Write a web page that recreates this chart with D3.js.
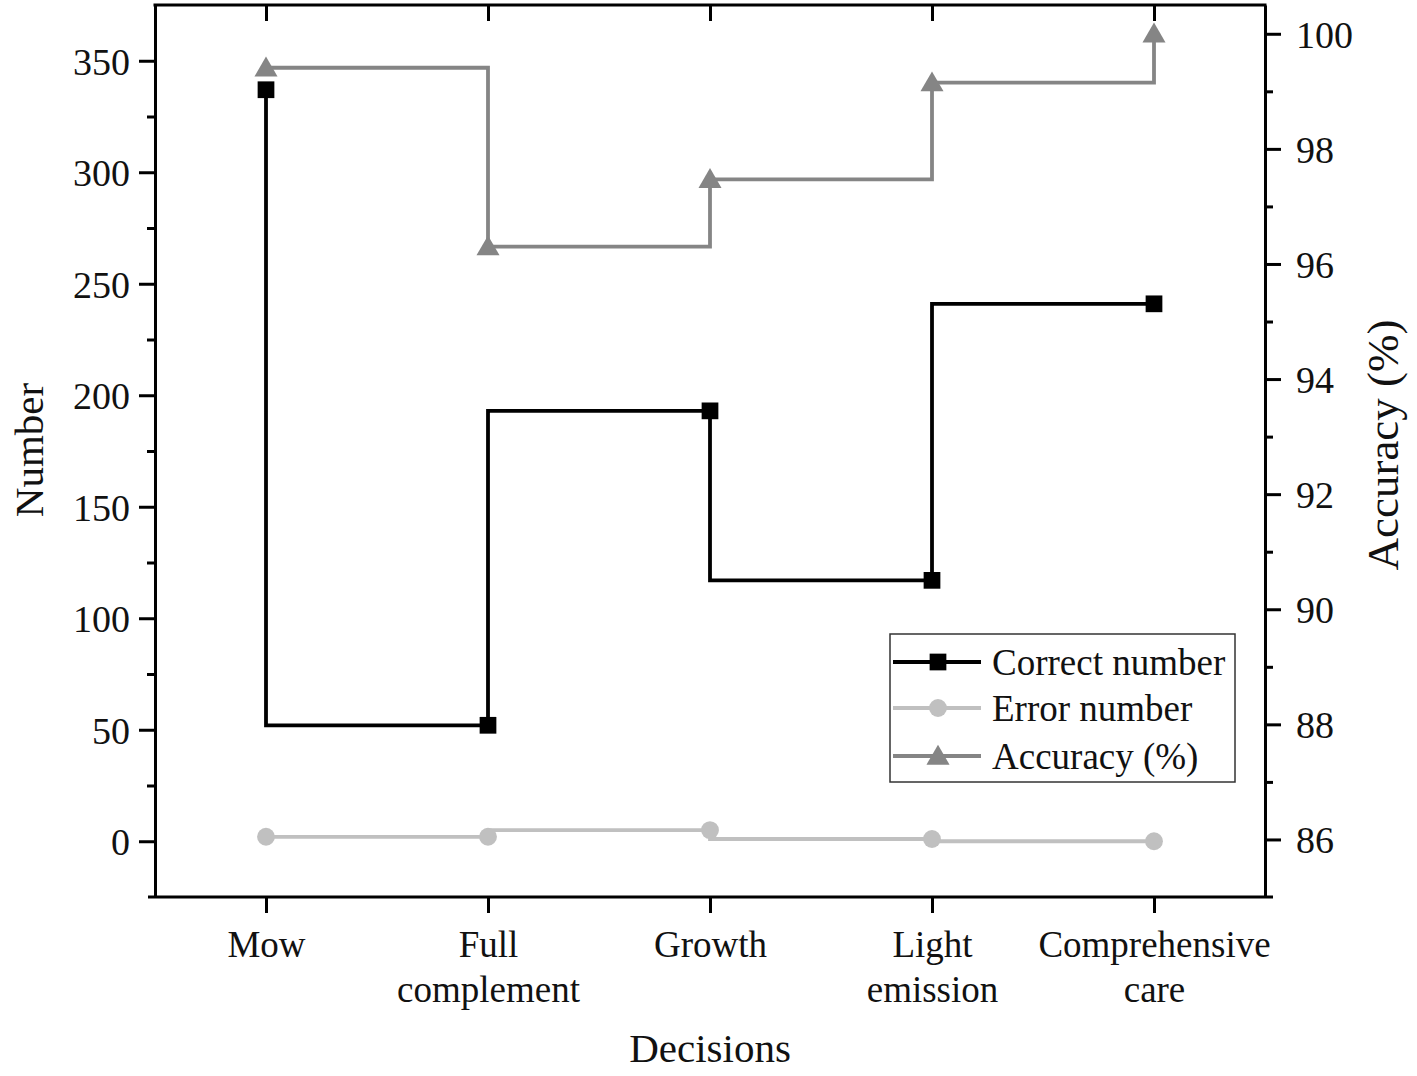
<!DOCTYPE html>
<html><head><meta charset="utf-8">
<script src="https://cdn.jsdelivr.net/npm/d3@7/dist/d3.min.js"></script>
<style>body{margin:0;background:#fff}svg{display:block}text{font-family:"Liberation Serif","Times New Roman",serif;fill:#111}</style>
</head><body>
<script>
const categories = [["Mow"], ["Full", "complement"], ["Growth"], ["Light", "emission"], ["Comprehensive", "care"]];
const correctNumber = [337, 52, 193, 117, 241];
const errorNumber = [2, 2, 5, 1, 0];
const accuracy = [99.41, 96.30, 97.47, 99.15, 100];
const leftTicks = [0, 50, 100, 150, 200, 250, 300, 350];
const rightTicks = [86, 88, 90, 92, 94, 96, 98, 100];

const W = 1417, H = 1076;
const L = 155, R = 1265, T = 5, B = 897;
const svg = d3.select("body").append("svg").attr("width", W).attr("height", H);

const x = d3.scalePoint().domain(d3.range(categories.length)).range([L, R]).padding(0.5);
const yL = d3.scaleLinear().domain([-25, 375]).range([B, T]);
const yR = d3.scaleLinear().domain([85, 100.5]).range([B, T]);

const series = [
  {name: "Correct number", vals: correctNumber, y: yL, color: "#000000", curve: d3.curveStepBefore, shape: "square"},
  {name: "Error number", vals: errorNumber, y: yL, color: "#c0c0c0", curve: d3.curveStepBefore, shape: "circle"},
  {name: "Accuracy (%)", vals: accuracy, y: yR, color: "#858585", curve: d3.curveStepAfter, shape: "triangle"}
];
const symbolOf = s => s === "square" ? d3.symbol(d3.symbolSquare, 280) : s === "circle" ? d3.symbol(d3.symbolCircle, 250) : d3.symbol(d3.symbolTriangle, 230);

const drawOrder = [1, 0, 2];
drawOrder.forEach(i => {
  const s = series[i];
  const line = d3.line().x((d, j) => x(j)).y(d => s.y(d)).curve(s.curve);
  svg.append("path").attr("d", line(s.vals)).attr("fill", "none").attr("stroke", s.color).attr("stroke-width", 3.8);
  svg.selectAll(null).data(s.vals).enter().append("path")
    .attr("d", symbolOf(s.shape))
    .attr("transform", (d, j) => `translate(${x(j)},${s.y(d) + (s.shape === "triangle" ? 2 : 0)})`)
    .attr("fill", s.color);
});

const axStyle = g => { g.selectAll("path.domain").attr("stroke", "#000").attr("stroke-width", 3);
  g.selectAll(".tick line").attr("stroke", "#000").attr("stroke-width", 3);
  g.selectAll("text").style("font-size", "38px").attr("fill", "#111"); };

const gl = svg.append("g").attr("transform", `translate(${L},0)`);
gl.call(d3.axisLeft(yL).tickValues(leftTicks).tickSize(16).tickPadding(9).tickSizeOuter(0)).call(axStyle);
gl.selectAll("text").attr("dy", "0.35em");
gl.append("g").call(d3.axisLeft(yL).tickValues([25, 75, 125, 175, 225, 275, 325]).tickSize(8).tickFormat("").tickSizeOuter(0)).call(axStyle).select(".domain").remove();

const gr = svg.append("g").attr("transform", `translate(${R},0)`);
gr.call(d3.axisRight(yR).tickValues(rightTicks).tickSize(16).tickPadding(15).tickSizeOuter(0)).call(axStyle);
gr.selectAll("text").attr("dy", "0.35em");
gr.append("g").call(d3.axisRight(yR).tickValues([87, 89, 91, 93, 95, 97, 99]).tickSize(8).tickFormat("").tickSizeOuter(0)).call(axStyle).select(".domain").remove();

const gb = svg.append("g").attr("transform", `translate(0,${B})`);
gb.call(d3.axisBottom(x).tickSize(16).tickFormat("").tickSizeOuter(0)).call(axStyle);
gb.select(".domain").attr("d", `M${L - 7},0H${R + 8}`);
gb.selectAll(".tick").each(function(d) {
  const t = d3.select(this).append("text").attr("text-anchor", "middle").style("font-size", "37px").attr("fill", "#111");
  categories[d].forEach((ln, k) => t.append("tspan").attr("x", 0).attr("y", 60 + k * 45).text(ln));
});

const gt = svg.append("g").attr("transform", `translate(0,${T})`);
gt.call(d3.axisBottom(x).tickSize(16).tickFormat("").tickSizeOuter(0)).call(axStyle);
gt.select(".domain").attr("d", `M${L - 1.5},0H${R + 1.5}`);

svg.append("text").attr("transform", `translate(${(L + R) / 2},1062)`).attr("text-anchor", "middle").style("font-size", "41px").text("Decisions");
svg.append("text").attr("transform", `translate(43,450) rotate(-90)`).attr("text-anchor", "middle").style("font-size", "41px").text("Number");
svg.append("text").attr("transform", `translate(1398,445) rotate(-90)`).attr("text-anchor", "middle").style("font-size", "45px").text("Accuracy (%)");

const lg = svg.append("g");
lg.append("rect").attr("x", 890).attr("y", 634).attr("width", 345).attr("height", 148).attr("fill", "#fff").attr("stroke", "#333").attr("stroke-width", 1.5);
const legY = [662, 708, 756];
series.forEach((s, i) => {
  lg.append("line").attr("x1", 893).attr("x2", 981).attr("y1", legY[i]).attr("y2", legY[i]).attr("stroke", s.color).attr("stroke-width", 3.8);
  lg.append("path").attr("d", symbolOf(s.shape)).attr("transform", `translate(938,${legY[i] + (s.shape === "triangle" ? 2 : 0)})`).attr("fill", s.color);
  lg.append("text").attr("x", 992).attr("y", legY[i]).attr("dy", "0.35em").style("font-size", "37px").text(s.name);
});
</script>
</body></html>
